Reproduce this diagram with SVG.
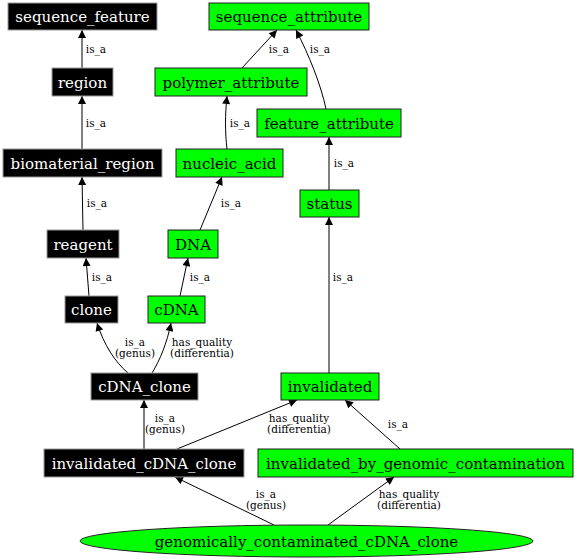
<svg xmlns="http://www.w3.org/2000/svg" width="576" height="560" viewBox="0 0 576 560">
<defs>
<marker id="arr" viewBox="0 0 10 10" refX="10" refY="5" markerWidth="10" markerHeight="8" markerUnits="userSpaceOnUse" orient="auto">
<path d="M0,0 L10,5 L0,10 Z" fill="#000"/>
</marker>
<style>
.blk rect{fill:#000;stroke:#999;stroke-width:1}
.grn rect,.grn ellipse{fill:#00ff00;stroke:#222;stroke-width:1}
.blk text{fill:#fff}
.grn text{fill:#000}
.n text{font-family:"DejaVu Serif",serif;font-size:15px;text-anchor:middle}
.e path{fill:none;stroke:#000;stroke-width:1;marker-end:url(#arr)}
.e text{font-family:"DejaVu Serif",serif;font-size:10.5px;text-anchor:middle;fill:#000}
</style>
</defs>
<rect width="576" height="560" fill="#fff"/>
<g id="edges" class="e">
<path d="M82,68 L82,30"/><text x="96" y="52.5">is_a</text>
<path d="M82,149 L82,96"/><text x="96" y="126.5">is_a</text>
<path d="M83,230 L82,177"/><text x="97" y="206.5">is_a</text>
<path d="M89,296 L86,258"/><text x="102" y="280.5">is_a</text>
<path d="M180,296 L188,258"/><text x="200" y="280.5">is_a</text>
<path d="M200,230 L222,177"/><text x="231" y="206.5">is_a</text>
<path d="M227,149 C225,132 225,115 227,96"/><text x="240" y="126.5">is_a</text>
<path d="M242,68 L277,30"/><text x="279" y="52.5">is_a</text>
<path d="M326,109 C321,85 309,55 296,30"/><text x="320" y="52.5">is_a</text>
<path d="M329,190 L329,137"/><text x="344" y="166.5">is_a</text>
<path d="M329,373 L329,217"/><text x="343" y="280.5">is_a</text>
<path d="M128,373 C115,362 104,345 97,323"/><text x="135" y="345.5">is_a</text><text x="135" y="356.5">(genus)</text>
<path d="M152,373 C160,360 167,343 171,323"/><text x="202" y="345.5">has_quality</text><text x="202" y="356.5">(differentia)</text>
<path d="M144,449 L144,400"/><text x="165" y="422">is_a</text><text x="165" y="433">(genus)</text>
<path d="M177,449 L297,400"/><text x="299" y="421.5">has_quality</text><text x="299" y="432.5">(differentia)</text>
<path d="M400,449 L345,400"/><text x="398" y="427.5">is_a</text>
<path d="M274,525 L175,477"/><text x="266" y="498">is_a</text><text x="266" y="509">(genus)</text>
<path d="M328,525 L394,477"/><text x="409" y="498">has_quality</text><text x="409" y="509">(differentia)</text>
</g>
<g id="sequence_feature" class="n blk"><rect x="8" y="3" width="149" height="27"/><text x="82.5" y="22">sequence_feature</text></g>
<g id="region" class="n blk"><rect x="52" y="68" width="61" height="28"/><text x="82.5" y="87.5">region</text></g>
<g id="biomaterial_region" class="n blk"><rect x="3" y="149" width="159" height="28"/><text x="82.5" y="168.5">biomaterial_region</text></g>
<g id="reagent" class="n blk"><rect x="47" y="230" width="72" height="28"/><text x="83" y="249.5">reagent</text></g>
<g id="clone" class="n blk"><rect x="65" y="296" width="53" height="27"/><text x="91.5" y="315">clone</text></g>
<g id="cDNA_clone" class="n blk"><rect x="91" y="373" width="107" height="27"/><text x="144.5" y="392">cDNA_clone</text></g>
<g id="invalidated_cDNA_clone" class="n blk"><rect x="44" y="449" width="200" height="28"/><text x="144" y="468.5">invalidated_cDNA_clone</text></g>
<g id="sequence_attribute" class="n grn"><rect x="209" y="3" width="160" height="27"/><text x="289" y="22">sequence_attribute</text></g>
<g id="polymer_attribute" class="n grn"><rect x="155" y="68" width="152" height="28"/><text x="231" y="87.5">polymer_attribute</text></g>
<g id="feature_attribute" class="n grn"><rect x="257" y="109" width="144" height="28"/><text x="329" y="128.5">feature_attribute</text></g>
<g id="nucleic_acid" class="n grn"><rect x="176" y="149" width="107" height="28"/><text x="229.5" y="168.5">nucleic_acid</text></g>
<g id="status" class="n grn"><rect x="300" y="190" width="59" height="27"/><text x="329.5" y="209">status</text></g>
<g id="DNA" class="n grn"><rect x="168" y="230" width="50" height="28"/><text x="193" y="249.5">DNA</text></g>
<g id="cDNA" class="n grn"><rect x="148" y="296" width="57" height="27"/><text x="176.5" y="315">cDNA</text></g>
<g id="invalidated" class="n grn"><rect x="281" y="373" width="98" height="27"/><text x="330" y="392">invalidated</text></g>
<g id="invalidated_by_genomic_contamination" class="n grn"><rect x="258" y="449" width="315" height="28"/><text x="415.5" y="468.5">invalidated_by_genomic_contamination</text></g>
<g id="genomically_contaminated_cDNA_clone" class="n grn"><ellipse cx="306.5" cy="541" rx="226.5" ry="16"/><text x="306.5" y="546.5">genomically_contaminated_cDNA_clone</text></g>
</svg>
